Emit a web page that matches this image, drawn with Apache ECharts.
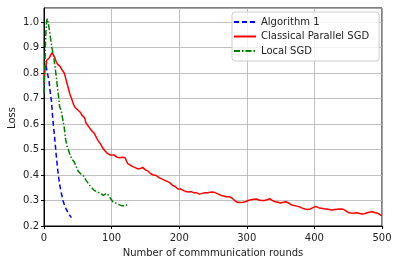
<!DOCTYPE html>
<html><head><meta charset="utf-8">
<script src="https://cdn.jsdelivr.net/npm/echarts@6/dist/echarts.min.js"></script>
<style>html,body{margin:0;padding:0;background:#fff}#c{width:399px;height:265px}</style>
</head><body><div id="c"></div>
<script>
const seriesNames = ['Algorithm 1', 'Classical Parallel SGD', 'Local SGD'];
const xTicks = [0, 100, 200, 300, 400, 500];
const yTicks = [0.2, 0.3, 0.4, 0.5, 0.6, 0.7, 0.8, 0.9, 1.0];
const algorithm1 = [[3,0.83],[5,0.80],[7.4,0.77],[9,0.73],[11,0.69],[13,0.62],[16,0.54],[18,0.48],[20.7,0.41],[23,0.365],[25.6,0.33],[28,0.30],[30.6,0.28],[33,0.265],[35.5,0.253],[38,0.242],[40.5,0.233]];
const classicalSGD = [[0,0.76],[1,0.80],[2,0.82],[3,0.83],[4,0.85],[6,0.85],[8,0.86],[10,0.87],[12,0.88],[14,0.875],[16,0.86],[18,0.845],[20,0.835],[22,0.84],[24,0.825],[26,0.815],[28,0.81],[30,0.80],[32,0.78],[34,0.76],[36,0.74],[38,0.72],[40,0.705],[42,0.69],[44,0.675],[46,0.665],[48,0.66],[50,0.655],[52,0.65],[54,0.645],[56,0.635],[58,0.64],[60,0.625],[62,0.605],[64,0.60],[66,0.59],[68,0.585],[70,0.575],[72,0.57],[74,0.565],[76,0.56],[78,0.545],[80,0.535],[82,0.53],[84,0.52],[86,0.51],[88,0.505],[90,0.495],[92,0.49],[94,0.485],[96,0.48],[98,0.478],[100,0.475],[104,0.478],[108,0.47],[112,0.468],[116,0.47],[120,0.468],[122,0.455],[124,0.445],[126,0.44],[130,0.435],[134,0.43],[138,0.425],[142,0.425],[146,0.43],[150,0.42],[154,0.415],[158,0.405],[162,0.40],[166,0.398],[170,0.39],[174,0.385],[178,0.38],[182,0.375],[186,0.37],[190,0.36],[194,0.355],[198,0.345],[202,0.345],[206,0.34],[210,0.335],[214,0.333],[218,0.335],[222,0.33],[226,0.33],[230,0.325],[234,0.328],[238,0.33],[242,0.33],[246,0.332],[250,0.333],[254,0.33],[258,0.325],[262,0.32],[266,0.318],[270,0.315],[274,0.315],[278,0.31],[282,0.30],[286,0.293],[290,0.292],[294,0.293],[298,0.295],[302,0.30],[306,0.303],[310,0.305],[314,0.306],[318,0.302],[322,0.30],[326,0.30],[330,0.303],[334,0.307],[338,0.30],[342,0.295],[346,0.293],[350,0.29],[354,0.293],[358,0.295],[362,0.29],[366,0.283],[370,0.28],[374,0.278],[378,0.275],[382,0.27],[386,0.267],[390,0.265],[394,0.267],[398,0.272],[402,0.277],[406,0.272],[410,0.27],[414,0.268],[418,0.267],[422,0.265],[426,0.263],[430,0.265],[434,0.266],[438,0.267],[442,0.266],[446,0.26],[450,0.253],[454,0.251],[458,0.25],[462,0.252],[466,0.25],[470,0.247],[474,0.248],[478,0.252],[482,0.255],[486,0.256],[490,0.252],[494,0.25],[498,0.243],[500,0.241]];
const localSGD = [[0,0.72],[1,0.80],[2,0.90],[3,0.97],[4,1.005],[5,1.013],[6,1.00],[7,0.985],[8,0.968],[10,0.93],[12,0.895],[14,0.87],[16,0.83],[18,0.79],[20,0.74],[22,0.70],[23,0.67],[25,0.655],[26,0.645],[28,0.615],[30,0.585],[32,0.54],[34,0.515],[36,0.50],[38,0.483],[40,0.47],[42,0.46],[45,0.45],[48,0.43],[50,0.418],[54,0.405],[58,0.398],[62,0.38],[66,0.365],[70,0.352],[74,0.34],[78,0.335],[82,0.33],[85,0.326],[88,0.32],[92,0.328],[95,0.322],[98,0.31],[102,0.295],[106,0.29],[110,0.285],[113,0.282],[116,0.279],[118,0.275],[121,0.28],[124,0.285]];

const chart = echarts.init(document.getElementById('c'), null, {renderer: 'canvas'});
const font = 'DejaVu Sans';
const axisText = {color: '#222', fontFamily: font, fontSize: 10};
chart.setOption({
  animation: false,
  grid: {left: 44, right: 17, top: 8, bottom: 39, outerBoundsMode: 'none', containLabel: false, show: true, borderColor: '#000', borderWidth: 1, backgroundColor: 'transparent'},
  graphic: [{
    type: 'text', x: 12, y: 118, rotation: Math.PI / 2,
    style: {text: 'Loss', align: 'center', verticalAlign: 'middle', fill: '#222', font: '10px "DejaVu Sans"'}
  }],
  legend: {
    orient: 'vertical', left: 232, top: 12,
    data: seriesNames,
    itemWidth: 22, itemHeight: 10, itemGap: 4.5,
    padding: [5, 10, 5, 1],
    borderColor: '#ccc', borderWidth: 1, borderRadius: 3,
    backgroundColor: 'rgba(255,255,255,0.8)',
    itemStyle: {opacity: 0},
    textStyle: {color: '#222', fontFamily: font, fontSize: 10}
  },
  xAxis: {
    type: 'value', min: 0, max: 500, interval: 100,
    name: 'Number of commmunication rounds', nameLocation: 'middle', nameGap: 22,
    nameTextStyle: axisText,
    axisLine: {show: true, lineStyle: {color: '#000'}},
    axisTick: {show: true, length: 3, lineStyle: {color: '#000'}},
    axisLabel: Object.assign({margin: 7, formatter: v => xTicks.includes(v) ? String(v) : ''}, axisText),
    splitLine: {show: true, lineStyle: {color: '#b0b0b0', width: 0.8}}
  },
  yAxis: {
    type: 'value', min: 0.2, max: 1.055, interval: 0.1,
    axisLine: {show: true, lineStyle: {color: '#000'}},
    axisTick: {show: true, length: 3, lineStyle: {color: '#000'}},
    axisLabel: Object.assign({margin: 5, showMaxLabel: false, formatter: v => {
      const t = yTicks.find(y => Math.abs(y - v) < 1e-6);
      return t !== undefined ? t.toFixed(1) : '';
    }}, axisText),
    splitLine: {show: true, lineStyle: {color: '#b0b0b0', width: 0.8}}
  },
  series: [
    {name: seriesNames[0], type: 'line', data: algorithm1, symbol: 'none', clip: true,
     lineStyle: {color: '#0000ff', width: 1.5, type: [5, 3]}, itemStyle: {color: '#0000ff'}},
    {name: seriesNames[1], type: 'line', data: classicalSGD, symbol: 'none', clip: true,
     lineStyle: {color: '#ff0000', width: 1.5}, itemStyle: {color: '#ff0000'}},
    {name: seriesNames[2], type: 'line', data: localSGD, symbol: 'none', clip: true,
     lineStyle: {color: '#008000', width: 1.5, type: [6, 2, 1.5, 2]}, itemStyle: {color: '#008000'}}
  ]
});
</script></body></html>
